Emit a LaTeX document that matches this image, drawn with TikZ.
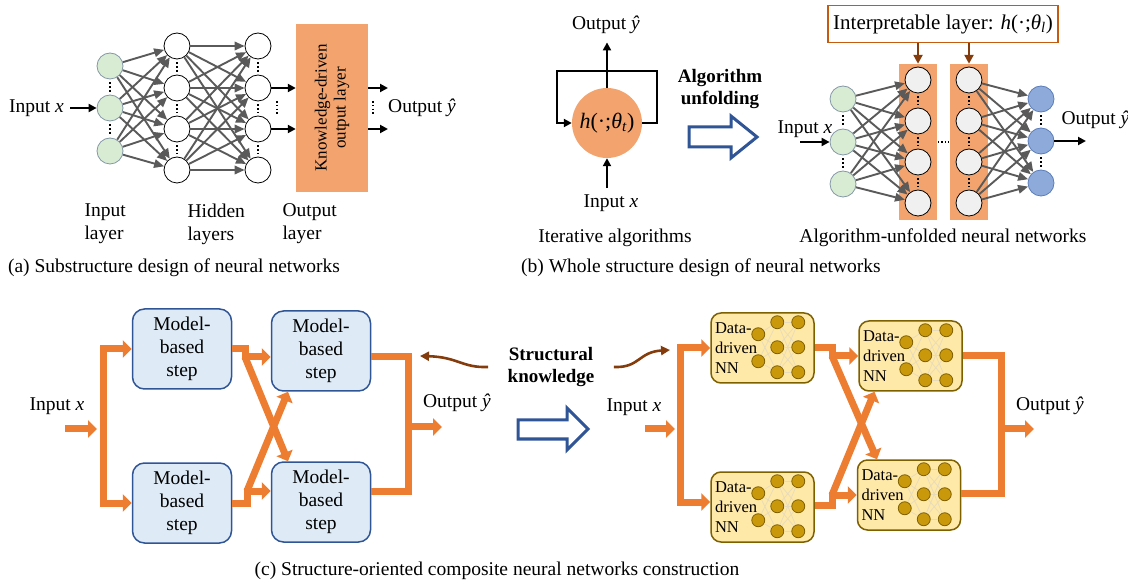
\documentclass[tikz,border=0pt]{standalone}
\usepackage{fontspec}
\setmainfont{Liberation Serif}
\usetikzlibrary{arrows.meta,calc}
\definecolor{ingreen}{HTML}{D8EBD3}
\definecolor{inborder}{HTML}{8498A6}
\definecolor{boxorange}{HTML}{F3A46E}
\definecolor{outblue}{HTML}{8EAADB}
\definecolor{outborder}{HTML}{5B7DB8}
\definecolor{linkgray}{HTML}{5A5A5A}
\definecolor{interborder}{HTML}{C55A11}
\definecolor{knowbrown}{HTML}{843C0C}
\definecolor{modelfill}{HTML}{DEEBF7}
\definecolor{modelborder}{HTML}{2F5597}
\definecolor{ddfill}{HTML}{FFE9A9}
\definecolor{ddborder}{HTML}{7F6000}
\definecolor{ddgold}{HTML}{C9980B}
\definecolor{ddlink}{HTML}{E6DBBB}
\definecolor{floworange}{HTML}{ED7D31}
\definecolor{arrowblue}{HTML}{2F5597}
\begin{document}
\begin{tikzpicture}[x=1pt,y=-1pt,font={\fontsize{19.5}{23}\selectfont},
  inneuron/.style={draw=inborder,circle,fill=ingreen,minimum size=26pt,inner sep=0pt,line width=0.8pt},
  hidneuron/.style={draw=black,circle,fill=white,minimum size=26pt,inner sep=0pt,line width=0.8pt},
  unfneuron/.style={hidneuron,fill=black!6},
  outneuron/.style={draw=outborder,circle,fill=outblue,minimum size=26pt,inner sep=0pt,line width=0.8pt},
  link/.style={draw=linkgray,line width=1.9pt,-{Triangle[length=10pt,width=8.5pt]}},
  blackarrow/.style={line width=2.4pt,-{Triangle[length=8pt,width=8pt]}},
  brownarrow/.style={draw=knowbrown,line width=2.6pt,-{Triangle[length=9pt,width=9pt]}},
  vdots/.style={line width=1.6pt,dash pattern=on 1.6pt off 2.2pt,shorten <=3pt,shorten >=3pt},
  modelbox/.style={draw=modelborder,fill=modelfill,rounded corners=12pt,line width=1.5pt,
    minimum width=99pt,minimum height=80pt,align=center},
  ddbox/.style={draw=ddborder,fill=ddfill,rounded corners=10pt,line width=1.5pt,
    minimum width=103pt,minimum height=70pt,text width=95pt,inner sep=4pt,align=left,
    font={\fontsize{16.5}{20}\selectfont}},
  ddneuron/.style={draw=ddborder,circle,fill=ddgold,minimum size=13pt,inner sep=0pt,line width=0.8pt},
  flow/.style={draw=floworange,line width=7pt},
  flowarrow/.style={flow,-{Triangle[length=9pt,width=17pt]}},
  hollow/.style={draw=arrowblue,fill=white,line width=3pt,line join=miter}]
\useasboundingbox (0,0) rectangle (1128,585);

% (a) substructure design
\node[inneuron] (ia1) at (110,66) {};
\node[inneuron] (ia2) at (110,108) {};
\node[inneuron] (ia3) at (110,151) {};
\foreach \n/\y in {1/46,2/88,3/129,4/170}{
  \node[hidneuron] (ha\n) at (177,\y) {};
  \node[hidneuron] (hb\n) at (258,\y) {};
}
\foreach \i in {1,2,3}
  \foreach \j in {1,...,4}
    \draw[link] (ia\i) -- (ha\j);
\foreach \i in {1,...,4}
  \foreach \j in {1,...,4}
    \draw[link] (ha\i) -- (hb\j);
\draw[vdots] (ia1) -- (ia2);
\draw[vdots] (ia2) -- (ia3);
\foreach \a/\b in {1/2,2/3,3/4}{
  \draw[vdots] (ha\a) -- (ha\b);
  \draw[vdots] (hb\a) -- (hb\b);
}
\node[fill=boxorange,minimum width=72pt,minimum height=168pt,inner sep=0pt] (kbox) at (332,108) {};
\node[rotate=90,align=center,font={\fontsize{17}{19}\selectfont}] (ktext) at (kbox.center) {Knowledge-driven\\output layer};
\node[anchor=east,inner sep=2pt] (ina) at (66,108) {Input \textit{x}};
\draw[blackarrow,shorten <=4pt] (ina) -- (ia2);
\draw[blackarrow] (hb2) -- (hb2 -| kbox.west);
\draw[blackarrow] (hb3) -- (hb3 -| kbox.west);
\coordinate (oa1) at (388,88);
\coordinate (oa2) at (388,129);
\draw[blackarrow] (kbox.east |- oa1) -- (oa1);
\draw[blackarrow] (kbox.east |- oa2) -- (oa2);
\draw[line width=1.6pt,dash pattern=on 1.6pt off 2.2pt] (277,101) -- (277,116);
\draw[line width=1.6pt,dash pattern=on 1.6pt off 2.2pt] (373,101) -- (373,116);
\node[anchor=west,inner sep=2pt] (outa) at (386,108) {Output \textit{ŷ}};
\node[anchor=west,align=left] (lina) at (81,224) {Input\\layer};
\node[anchor=west,align=left] (lhid) at (184,224) {Hidden\\layers};
\node[anchor=west,align=left] (lout) at (279,224) {Output\\layer};
\node (capa) at (174,268) {(a) Substructure design of neural networks};

% (b) iterative algorithm and its unfolding
\node[circle,fill=boxorange,minimum size=70pt,inner sep=0pt,font={\fontsize{22}{26}\selectfont}] (iter) at (607,123)
  {\textit{h}(·;\textit{θ}\textsubscript{\textit{t}})};
\coordinate (loopr) at (657,71);
\coordinate (loopl) at (557,71);
\draw[blackarrow] (iter.east) -| (loopr) -- (loopl) |- (iter.west);
\node (outit) at (606,25) {Output \textit{ŷ}};
\draw[blackarrow,shorten >=5pt] (iter.north) -- (iter.north |- outit.south);
\node (init) at (611,203) {Input \textit{x}};
\draw[blackarrow,shorten <=3pt] (init.north -| iter.south) -- (iter.south);
\node (itcap) at (615,238) {Iterative algorithms};
\node[align=center,font={\fontsize{19}{22}\selectfont\bfseries}] (unf) at (720,89) {Algorithm\\unfolding};
\draw[hollow] (689,127) -- (731,127) -- (731,116) -- (757,137) -- (731,158) -- (731,147) -- (689,147) -- cycle;

\node[fill=boxorange,minimum width=38pt,minimum height=156pt,inner sep=0pt] (colA) at (918,142) {};
\node[fill=boxorange,minimum width=38pt,minimum height=156pt,inner sep=0pt] (colB) at (969,142) {};
\node[inneuron] (ib1) at (843,99) {};
\node[inneuron] (ib2) at (843,142) {};
\node[inneuron] (ib3) at (843,184) {};
\foreach \n/\y in {1/80,2/121,3/162,4/203}{
  \node[unfneuron] (ua\n) at (918,\y) {};
  \node[unfneuron] (ub\n) at (969,\y) {};
}
\node[outneuron] (ob1) at (1041,99) {};
\node[outneuron] (ob2) at (1041,141) {};
\node[outneuron] (ob3) at (1041,183) {};
\foreach \i in {1,2,3}
  \foreach \j in {1,...,4}{
    \draw[link] (ib\i) -- (ua\j);
    \draw[link] (ub\j) -- (ob\i);
  }
\draw[vdots] (ib1) -- (ib2);
\draw[vdots] (ib2) -- (ib3);
\draw[vdots] (ob1) -- (ob2);
\draw[vdots] (ob2) -- (ob3);
\foreach \a/\b in {1/2,2/3,3/4}{
  \draw[vdots] (ua\a) -- (ua\b);
  \draw[vdots] (ub\a) -- (ub\b);
}
\draw[line width=1.4pt,dash pattern=on 1.4pt off 2pt] (938,142) -- (949,142);
\node[draw=interborder,line width=1.5pt,fill=white,minimum width=230pt,minimum height=37pt,
  font={\fontsize{21}{24}\selectfont}] (interp) at (943,24)
  {Interpretable layer: \textit{h}(·;\textit{θ}\textsubscript{\textit{l}})};
\draw[brownarrow] (colA.north |- interp.south) -- (colA.north);
\draw[brownarrow] (colB.north |- interp.south) -- (colB.north);
\node (inb) at (805,129) {Input \textit{x}};
\coordinate (inbs) at (800,142);
\draw[blackarrow] (inbs) -- (ib2);
\node[anchor=west] (outb) at (1058,120) {Output \textit{ŷ}};
\coordinate (outbs) at (1086,141);
\draw[blackarrow] (ob2) -- (outbs);
\node (unfcap) at (943,238) {Algorithm-unfolded neural networks};
\node (capb) at (701,268) {(b) Whole structure design of neural networks};

% (c) model-based composite network
\node[modelbox] (mtl) at (182,349) {Model-\\based\\step};
\node[modelbox] (mtr) at (321,351) {Model-\\based\\step};
\node[modelbox] (mbl) at (182,503) {Model-\\based\\step};
\node[modelbox] (mbr) at (321,502) {Model-\\based\\step};
\coordinate (lin) at (65,429);
\coordinate (lsplit) at (103,429);
\coordinate (ltstep) at (245,357);
\coordinate (lbstep) at (247,491);
\coordinate (lmerge) at (408,427);
\coordinate (lout) at (442,427);
\draw[flowarrow] (lin) -- ($(lsplit)+(-6,0)$);
\draw[flowarrow] (lsplit) |- (mtl.west);
\draw[flowarrow] (lsplit) |- (mbl.west);
\draw[flowarrow] (mtl.east) -| (ltstep) -- ($(mtr.west)+(0,6)$);
\draw[flowarrow] (mbl.east) -| (lbstep) -- ($(mbr.west)+(0,-11)$);
\draw[flowarrow] (ltstep) -- ($(mbr.north)+(-33,0)$);
\draw[flowarrow] (lbstep) -- ($(mtr.south)+(-33,0)$);
\draw[flow] ($(mtr.east)+(0,6)$) -| (lmerge);
\draw[flow] ($(mbr.east)+(0,-11)$) -| (lmerge);
\draw[flowarrow] (lmerge) -- (lout);
\node (linlab) at (57,406) {Input \textit{x}};
\node (loutlab) at (457,403) {Output \textit{ŷ}};

% structural knowledge
\node[align=center,font={\fontsize{19}{22}\selectfont\bfseries}] (sk) at (551,367) {Structural\\knowledge};
\coordinate (skl) at (420,356);
\coordinate (skr) at (670,350);
\draw[brownarrow] ($(sk.west)+(-16,0)$) .. controls (462,368) and (458,357) .. (skl);
\draw[brownarrow] ($(sk.east)+(16,0)$) .. controls (640,368) and (638,352) .. (skr);
\draw[hollow] (518,420) -- (567,420) -- (567,408) -- (588,429) -- (567,450) -- (567,439) -- (518,439) -- cycle;

% (c) data-driven composite network
\node[ddbox] (dtl) at (762.5,348) {Data-\\driven\\NN};
\node[ddbox] (dtr) at (910.5,356) {Data-\\driven\\NN};
\node[ddbox] (dbl) at (762.5,507) {Data-\\driven\\NN};
\node[ddbox] (dbr) at (909,495) {Data-\\driven\\NN};
\foreach \b in {dtl,dtr,dbl,dbr}{
  \begin{scope}[shift={(\b.north west)}]
    \node[ddneuron] (\b a1) at (48,22) {};
    \node[ddneuron] (\b a2) at (48,49) {};
    \foreach \k/\y in {1/10,2/35,3/60}{
      \node[ddneuron] (\b b\k) at (67,\y) {};
      \node[ddneuron] (\b c\k) at (88,\y) {};
    }
    \foreach \i in {1,2}
      \foreach \j in {1,2,3}
        \draw[ddlink,line width=0.7pt] (\b a\i) -- (\b b\j);
    \foreach \i in {1,2,3}
      \foreach \j in {1,2,3}
        \draw[ddlink,line width=0.7pt] (\b b\i) -- (\b c\j);
  \end{scope}
}
\coordinate (rin) at (645,429);
\coordinate (rsplit) at (680,429);
\coordinate (rtstep) at (832,356);
\coordinate (rbstep) at (832,495);
\coordinate (rmerge) at (1001,429);
\coordinate (rout) at (1034,429);
\draw[flowarrow] (rin) -- ($(rsplit)+(-5,0)$);
\draw[flowarrow] (rsplit) |- (dtl.west);
\draw[flowarrow] (rsplit) |- ($(dbl.west)+(0,-5)$);
\draw[flowarrow] (dtl.east) -| (rtstep) -- (dtr.west);
\draw[flowarrow] ($(dbl.east)+(0,-2)$) -| (rbstep) -- (dbr.west);
\draw[flowarrow] (rtstep) -- ($(dbr.north)+(-32,0)$);
\draw[flowarrow] (rbstep) -- ($(dtr.south)+(-36,0)$);
\draw[flow] (dtr.east) -| (rmerge);
\draw[flow] ($(dbr.east)+(0,-2)$) -| (rmerge);
\draw[flowarrow] (rmerge) -- (rout);
\node (rinlab) at (634,407) {Input \textit{x}};
\node (routlab) at (1050,406) {Output \textit{ŷ}};
\node (capc) at (497,571) {(c) Structure-oriented composite neural networks construction};
\end{tikzpicture}
\end{document}
